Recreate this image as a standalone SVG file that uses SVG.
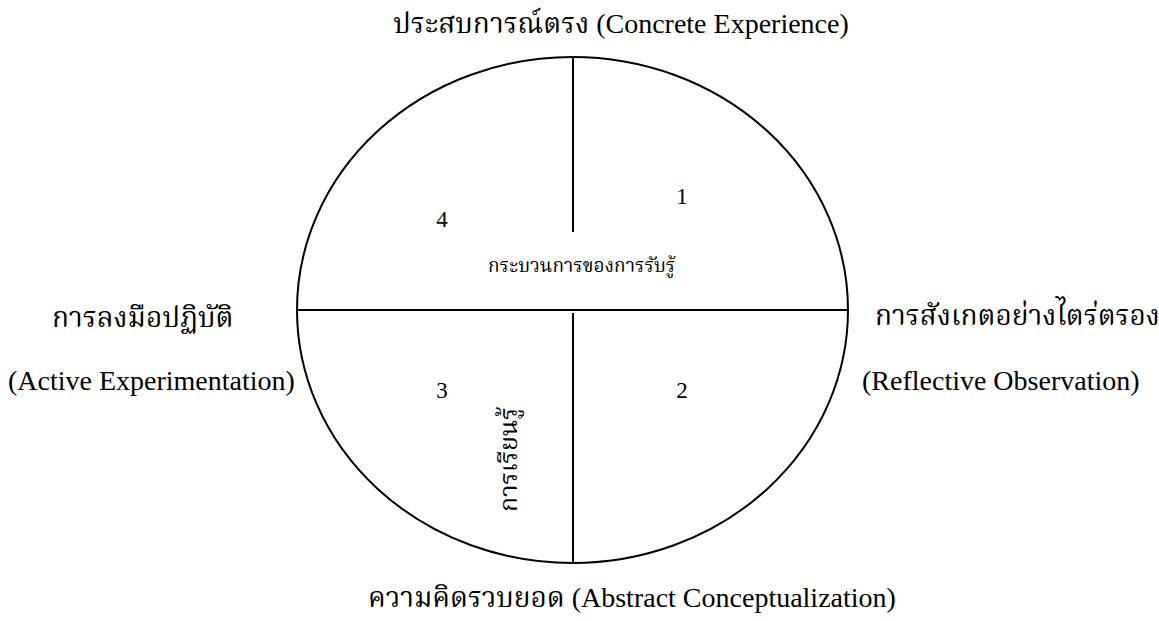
<svg xmlns="http://www.w3.org/2000/svg" width="1159" height="621" viewBox="0 0 1159 621">
<style>
text{font-family:"Liberation Serif","Noto Serif Thai","Noto Sans Thai",serif;fill:#000}
.lbl{font-size:28px}
.num{font-size:23px}
.mid{font-size:19px}
.vert{font-size:25px}
.ln{stroke:#000;stroke-width:2;fill:none}
</style>
<rect width="1159" height="621" fill="#fff"/>
<g id="circle">
<ellipse class="ln" cx="572.5" cy="310" rx="275.5" ry="253"/>
</g>
<g id="connectors">
<line class="ln" x1="573" y1="57" x2="573" y2="232"/>
<line class="ln" x1="297" y1="310" x2="848" y2="310"/>
<line class="ln" x1="573" y1="313" x2="573" y2="563"/>
</g>
<g id="top"><text class="lbl" x="393" y="33">ประสบการณ์ตรง (Concrete Experience)</text></g>
<g id="left"><text class="lbl" x="52" y="327">การลงมือปฏิบัติ</text><text class="lbl" x="8" y="390">(Active Experimentation)</text></g>
<g id="right"><text class="lbl" x="875" y="325">การสังเกตอย่างไตร่ตรอง</text><text class="lbl" x="862" y="390">(Reflective Observation)</text></g>
<g id="bottom"><text class="lbl" x="368" y="607">ความคิดรวบยอด (Abstract Conceptualization)</text></g>
<g id="q1"><text class="num" x="682" y="204" text-anchor="middle">1</text></g>
<g id="q2"><text class="num" x="682" y="398" text-anchor="middle">2</text></g>
<g id="q3"><text class="num" x="442" y="398" text-anchor="middle">3</text></g>
<g id="q4"><text class="num" x="442" y="227" text-anchor="middle">4</text></g>
<g id="center"><text class="mid" x="488" y="272">กระบวนการของการรับรู้</text></g>
<g id="learning"><text class="vert" transform="translate(517,512) rotate(-90)">การเรียนรู้</text></g>
</svg>
